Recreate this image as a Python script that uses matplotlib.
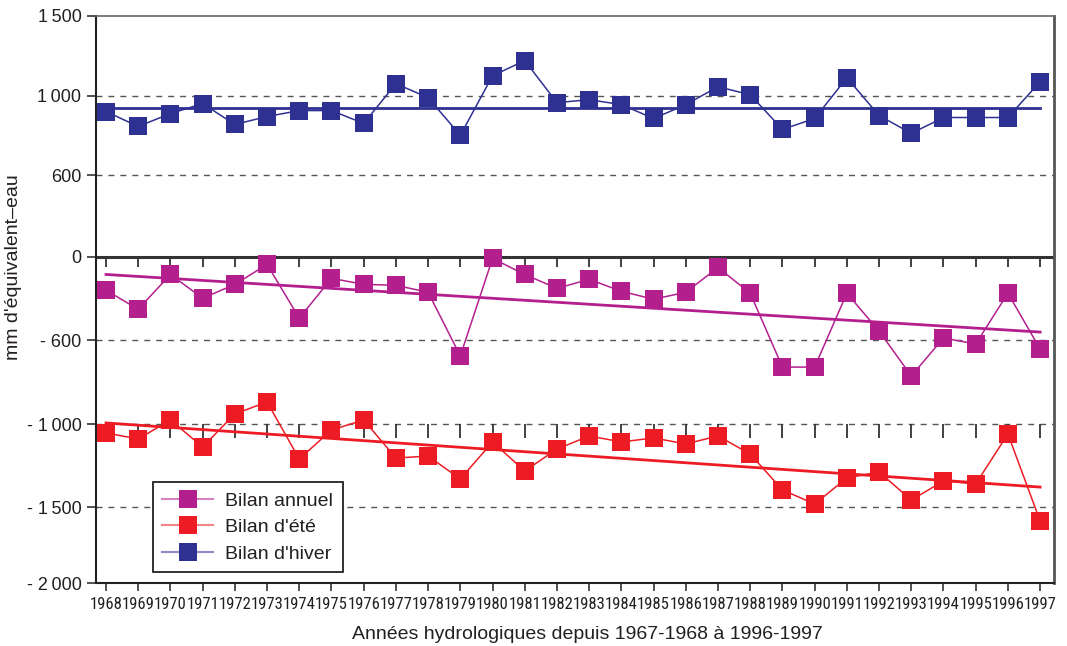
import numpy as np
import matplotlib
matplotlib.use("Agg")
import matplotlib.pyplot as plt
from matplotlib import font_manager as fm
from matplotlib.colors import to_rgb
from matplotlib.lines import Line2D
from matplotlib.markers import TICKDOWN

# ---------- Data ----------
years = np.arange(1968, 1998)

bilan_hiver = [920, 845, 910, 960, 855, 895, 925, 925, 860, 1075,
               990, 800, 1125, 1219, 965, 980, 955, 885, 955, 1056,
               1006, 830, 885, 1112, 900, 810, 890, 890, 890, 1088]

bilan_annuel = [-243, -379, -129, -300, -200, -57, -443, -157, -200, -207,
                -257, -676, -14, -129, -229, -164, -250, -307, -257, -79,
                -264, -729, -729, -264, -536, -771, -586, -619, -264, -643]

bilan_ete = [-1054, -1090, -981, -1138, -952, -895, -1211, -1036, -981, -1205,
             -1193, -1331, -1108, -1283, -1151, -1072, -1108, -1084, -1120, -1072,
             -1181, -1397, -1482, -1325, -1289, -1458, -1343, -1361, -1060, -1592]

# trend lines (start 1968, end 1997)
trend_years = [1968, 1997]
trend_hiver = [940, 940]
trend_annuel = [-129, -543]
trend_ete = [-995, -1380]

# y axis is not linear in the original: labelled values sit at these heights
ytick_vals = [-2000, -1500, -1000, -600, 0, 600, 1000, 1500]
ytick_pos = [0, 76, 159, 243, 326.5, 408, 487.3, 567.3]
ytick_labels = ["- 2\u2009000", "- 1\u2009500", "- 1\u2009000", "- 600", "0",
                "600", "1\u2009000", "1\u2009500"]
grid_vals = [1000, 600, -600, -1000, -1500]

C_HIVER = "#2e3192"
C_ANNUEL = "#b41f8e"
C_ETE = "#ed1c24"
C_TXT = "#231f20"

TXT = ["Liberation Sans", "DejaVu Sans"]


def pick_narrow():
    for name in ["Roboto Condensed", "Archivo Narrow", "Liberation Sans Narrow"]:
        try:
            fm.findfont(fm.FontProperties(family=name), fallback_to_default=False)
            return [name, "DejaVu Sans"], 12
        except ValueError:
            pass
    return ["DejaVu Sans"], 8.5


NARROW, YEAR_SIZE = pick_narrow()


def fwd(v):
    return np.interp(v, ytick_vals, ytick_pos)


def inv(p):
    return np.interp(p, ytick_pos, ytick_vals)


def lighter(c, f=0.45):
    r, g, b = to_rgb(c)
    return (r + (1 - r) * f, g + (1 - g) * f, b + (1 - b) * f)


# ---------- Plot ----------
fig = plt.figure(figsize=(10.67, 6.46), dpi=100)
ax = fig.add_axes([0.09, 0.0975, 0.8978, 0.8782])
ax.set_yscale("function", functions=(fwd, inv))
ax.set_ylim(-2000, 1500)
ax.set_xlim(1967.69, 1997.43)

for g in grid_vals:
    ax.axhline(g, color="#555555", lw=1.0, dashes=(4.3, 4.3), zorder=1)
ax.axhline(0, color="#333333", lw=2.2, zorder=2)

# small ticks hanging under the 0 and -1000 lines
ax.plot(years, np.zeros(len(years)), ls="none", marker=TICKDOWN, ms=7,
        mew=1.3, color="#333333", zorder=2)
ax.plot(years, np.full(len(years), -1000), ls="none", marker=TICKDOWN, ms=10,
        mew=1.3, color="#333333", zorder=2)

# trend lines
ax.plot(trend_years, trend_hiver, color=C_HIVER, lw=2.0, zorder=3)
ax.plot(trend_years, trend_annuel, color=C_ANNUEL, lw=2.0, zorder=3)
ax.plot(trend_years, trend_ete, color=C_ETE, lw=2.0, zorder=3)

# series
ax.plot(years, bilan_hiver, color=C_HIVER, lw=1.1, marker="s", ms=12.5,
        mew=0, zorder=4)
ax.plot(years, bilan_annuel, color=C_ANNUEL, lw=1.1, marker="s", ms=12.5,
        mew=0, zorder=4)
ax.plot(years, bilan_ete, color=C_ETE, lw=1.1, marker="s", ms=12.5,
        mew=0, zorder=4)

# ---------- Axes styling ----------
ax.set_yticks(ytick_vals)
ax.set_yticklabels(ytick_labels, family=TXT, fontsize=13, color=C_TXT)
ax.set_xticks(years)
ax.set_xticklabels([str(y) for y in years], family=NARROW, fontsize=YEAR_SIZE,
                   color=C_TXT)
ax.tick_params(axis="y", direction="out", length=6.5, width=1.2, pad=4,
               color="#333333")
ax.tick_params(axis="x", direction="out", length=5.8, width=1.2, pad=4,
               color="#333333")

ax.spines["left"].set_linewidth(1.5)
ax.spines["bottom"].set_linewidth(1.5)
ax.spines["left"].set_color("#222222")
ax.spines["bottom"].set_color("#222222")
ax.spines["top"].set_linewidth(1.2)
ax.spines["top"].set_color("#666666")
ax.spines["right"].set_linewidth(2.0)
ax.spines["right"].set_color("#555555")

ax.set_ylabel("mm d'équivalent\u2013eau", family=TXT, fontsize=14,
              color=C_TXT)
ax.yaxis.set_label_coords(-0.077, 0.557)
ax.set_xlabel("Années hydrologiques depuis 1967-1968 à 1996-1997",
              family=TXT, fontsize=14, color=C_TXT, labelpad=6)
ax.xaxis.set_label_coords(0.5125, -0.075)

# ---------- Legend ----------
handles = [
    Line2D([], [], color=lighter(C_ANNUEL), lw=1.5, marker="s", ms=12.5,
           mfc=C_ANNUEL, mec=C_ANNUEL, mew=0),
    Line2D([], [], color=lighter(C_ETE), lw=1.5, marker="s", ms=12.5,
           mfc=C_ETE, mec=C_ETE, mew=0),
    Line2D([], [], color=lighter(C_HIVER), lw=1.5, marker="s", ms=12.5,
           mfc=C_HIVER, mec=C_HIVER, mew=0),
]
leg = ax.legend(handles, ["Bilan annuel", "Bilan d'été", "Bilan d'hiver"],
                loc="lower left", bbox_to_anchor=(0.059, 0.019),
                borderaxespad=0, fancybox=False, framealpha=1,
                edgecolor="#222222", handlelength=2.6, handletextpad=0.65,
                labelspacing=0.45, borderpad=0.5,
                prop={"family": TXT, "size": 14})
leg.get_frame().set_linewidth(1.3)
for t in leg.get_texts():
    t.set_color(C_TXT)

fig.savefig("out.png", dpi=100)
